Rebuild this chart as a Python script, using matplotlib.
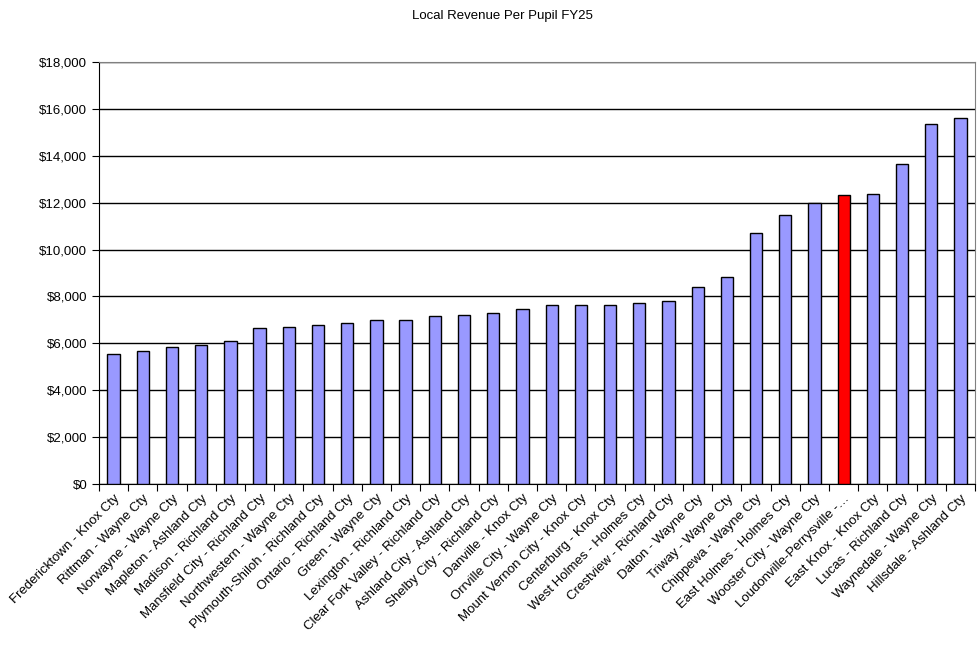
import numpy as np
import matplotlib
matplotlib.use("Agg")
from matplotlib import pyplot as plt
from matplotlib.ticker import FuncFormatter, FixedLocator

plt.rcParams["font.family"] = ["Liberation Sans", "DejaVu Sans"]

districts = [
    "Fredericktown - Knox Cty", "Rittman - Wayne Cty", "Norwayne - Wayne Cty",
    "Mapleton - Ashland Cty", "Madison - Richland Cty", "Mansfield City - Richland Cty",
    "Northwestern - Wayne Cty", "Plymouth-Shiloh - Richland Cty", "Ontario - Richland Cty",
    "Green - Wayne Cty", "Lexington - Richland Cty", "Clear Fork Valley - Richland Cty",
    "Ashland City - Ashland Cty", "Shelby City - Richland Cty", "Danville - Knox Cty",
    "Orrville City - Wayne Cty", "Mount Vernon City - Knox Cty", "Centerburg - Knox Cty",
    "West Holmes - Holmes Cty", "Crestview - Richland Cty", "Dalton - Wayne Cty",
    "Triway - Wayne Cty", "Chippewa - Wayne Cty", "East Holmes - Holmes Cty",
    "Wooster City - Wayne Cty", "Loudonville-Perrysville -\u2026", "East Knox - Knox Cty",
    "Lucas - Richland Cty", "Waynedale - Wayne Cty", "Hillsdale - Ashland Cty",
]
revenue = [
    5540, 5665, 5835, 5920, 6090, 6645, 6690, 6770, 6860, 6985,
    6985, 7155, 7200, 7285, 7455, 7625, 7625, 7625, 7710, 7820,
    8400, 8825, 10725, 11490, 12000, 12310, 12350, 13630, 15375, 15590,
]
highlight = "Loudonville-Perrysville -\u2026"

colors = ["#FF0000" if d == highlight else "#9999FF" for d in districts]
x = np.arange(len(districts))

fig = plt.figure(figsize=(9.8, 6.49), dpi=100)
ax = fig.add_axes([0.101, 0.2542, 0.894, 0.6503])

ax.bar(x, revenue, width=0.42, color=colors, edgecolor="black", linewidth=1, zorder=3)

ax.set_xlim(-0.5, len(districts) - 0.5)
ax.set_ylim(0, 18000)
ax.set_yticks(np.arange(0, 18001, 2000))
ax.yaxis.set_major_formatter(FuncFormatter(lambda v, p: f"${v:,.0f}"))
ax.yaxis.grid(True, color="black", linewidth=1, zorder=0)

ax.xaxis.set_major_locator(FixedLocator(np.arange(-0.5, len(districts), 1.0)))
ax.xaxis.set_major_formatter(FuncFormatter(lambda v, p: ""))
ax.xaxis.set_minor_locator(FixedLocator(x))
ax.set_xticklabels(districts, minor=True, rotation=45, ha="right",
                   rotation_mode="anchor", fontsize=9.5)
ax.tick_params(axis="x", which="minor", length=0, pad=6)
ax.tick_params(axis="x", which="major", direction="out", length=5, color="black")
ax.tick_params(axis="y", direction="out", length=5, labelsize=9.5, color="black")

ax.spines["top"].set_color("#808080")
ax.spines["right"].set_color("#808080")
ax.spines["left"].set_color("black")
ax.spines["bottom"].set_color("black")

fig.suptitle("Local Revenue Per Pupil FY25", x=0.513, y=0.985, fontsize=9.5)

fig.savefig("out.png", dpi=100)
